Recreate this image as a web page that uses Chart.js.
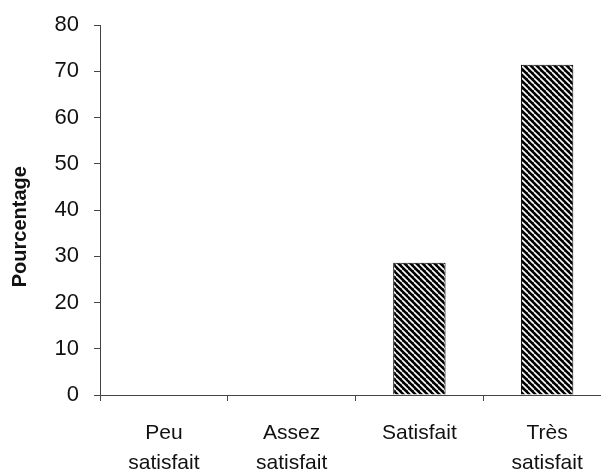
<!DOCTYPE html>
<html><head><meta charset="utf-8">
<script src="https://cdn.jsdelivr.net/npm/chart.js@4.4.0/dist/chart.umd.min.js"></script>
<style>html,body{margin:0;padding:0;background:#fff;overflow:hidden}#w{width:612px;height:475px}</style>
</head><body><div id="w"><canvas id="c"></canvas></div>
<script>
const categories = [["Peu","satisfait"],["Assez","satisfait"],["Satisfait"],["Très","satisfait"]];
const percentages = [0, 0, 28.6, 71.4];
const yTicks = [0,10,20,30,40,50,60,70,80];
const yTitle = "Pourcentage";

function hatch(){
  const c = document.createElement('canvas'); c.width = 6; c.height = 6;
  const g = c.getContext('2d');
  g.fillStyle = '#000'; g.fillRect(0,0,6,6);
  g.strokeStyle = '#fff'; g.lineWidth = 1.6;
  for (const o of [-6,0,6]) { g.beginPath(); g.moveTo(o,0); g.lineTo(o+6,6); g.stroke(); }
  return g.createPattern(c,'repeat');
}
const fam = "'Liberation Sans', Arial, sans-serif";
new Chart(document.getElementById('c'), {
  type:'bar',
  data:{labels:categories, datasets:[{data:percentages, backgroundColor:hatch(), borderColor:'#000', borderWidth:1, barPercentage:0.41, categoryPercentage:1}]},
  options:{
    responsive:true, maintainAspectRatio:false, animation:false,
    layout:{padding:{top:25,right:1,left:0,bottom:0}},
    plugins:{legend:{display:false},tooltip:{enabled:false}},
    scales:{
      x:{
        grid:{display:true, drawOnChartArea:false, drawTicks:true, tickLength:6, color:'#444', offset:true},
        border:{display:true, color:'#444', width:1},
        ticks:{color:'#111', font:{family:fam, size:21, lineHeight:1.45}, padding:17, maxRotation:0, autoSkip:false},
        afterFit(s){ s.height = 80; s.paddingLeft = 0; s.paddingRight = 0; }
      },
      y:{
        min:0, max:80,
        afterBuildTicks(s){ s.ticks = yTicks.map(v=>({value:v})); },
        grid:{display:true, drawOnChartArea:false, drawTicks:true, tickLength:6, color:'#444'},
        border:{display:true, color:'#444', width:1},
        ticks:{color:'#111', font:{family:fam, size:22}, padding:15},
        title:{display:true, text:yTitle + "\u00A0\u00A0\u00A0\u00A0\u00A0\u00A0", color:'#111', font:{family:fam, size:20, weight:'bold'}, padding:{top:8,bottom:0}},
        afterFit(s){ s.width = 100; s.paddingTop = 0; s.paddingBottom = 0; }
      }
    }
  }
});
</script></body></html>
